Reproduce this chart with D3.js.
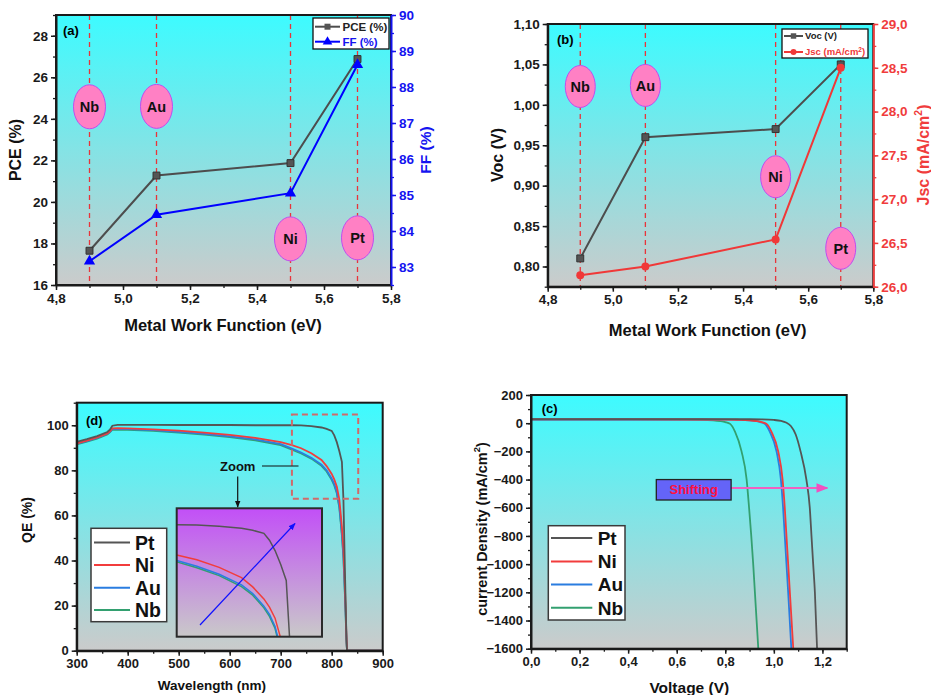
<!DOCTYPE html>
<html>
<head>
<meta charset="utf-8">
<script src="https://cdn.jsdelivr.net/npm/d3@7"></script>
<style>
  body { margin: 0; background: #fff; }
  svg { display: block; }
</style>
</head>
<body>
<svg id="chart" width="931" height="695"></svg>
<script>
// ---- data ----
var metals = ["Nb", "Au", "Ni", "Pt"];
var workFunction = [4.9, 5.1, 5.5, 5.7];
var pce = [17.65, 21.27, 21.87, 26.88];
var ff = [83.16, 84.45, 85.05, 88.62];
var voc = [0.81, 0.96, 0.97, 1.05];
var jsc = [26.13, 26.23, 26.54, 28.50];

// QE spectra (d)
var qeWave = [300, 320, 340, 360, 365, 370, 380, 400, 450, 500, 550, 600, 650, 700, 722, 740, 760, 780, 790, 800, 805, 810, 815, 820, 823, 826, 829, 830, 900];
var qePt = [92.6, 93.8, 95.2, 97.0, 98.0, 99.8, 100.2, 100.2, 100.2, 100.1, 100.1, 100.1, 100.0, 100.0, 100.0, 99.9, 99.6, 99.0, 98.4, 97.5, 95.5, 92.5, 88.5, 83.8, 67, 35, 5, 0, 0];
var qeNi = [92.0, 93.2, 94.6, 96.4, 97.3, 98.6, 98.7, 98.6, 98.2, 97.6, 96.7, 95.7, 94.4, 92.5, 91.2, 89.8, 87.6, 84.6, 81.9, 78.4, 76.0, 72.8, 67.0, 55, 45, 28, 6, 0, 0];
var qeAu = [91.8, 93.0, 94.4, 96.2, 97.1, 98.3, 98.4, 98.3, 97.8, 97.1, 96.2, 95.1, 93.7, 91.6, 89.6, 87.9, 85.6, 82.5, 80.0, 76.3, 73.9, 70.4, 64, 52, 42, 25, 5, 0, 0];
var qeNb = [91.5, 92.7, 94.1, 95.9, 96.8, 98.0, 98.1, 98.0, 97.5, 96.7, 95.8, 94.7, 93.3, 91.2, 89.2, 87.5, 85.2, 82.0, 79.5, 75.8, 73.3, 69.8, 63.2, 51, 41, 24, 4, 0, 0];

// J-V curves (c)
var ptV = [0, 0.4, 0.8, 0.9, 0.95, 1.0, 1.03, 1.05, 1.07, 1.09, 1.11, 1.134, 1.148, 1.155, 1.162, 1.169, 1.178];
var ptJ = [28.5, 28.4, 28.2, 27.8, 26.8, 23, 16, 5, -20, -80, -200, -400, -600, -800, -1000, -1200, -1600];
var niV = [0, 0.4, 0.7, 0.8, 0.85, 0.9, 0.93, 0.95, 0.97, 0.99, 1.018, 1.036, 1.045, 1.052, 1.059, 1.066, 1.08];
var niJ = [26.5, 26.5, 26.3, 25.8, 24.5, 21, 15, 8, -5, -60, -200, -400, -600, -800, -1000, -1200, -1600];
var auV = [0, 0.4, 0.7, 0.8, 0.85, 0.9, 0.925, 0.945, 0.963, 0.983, 1.011, 1.029, 1.038, 1.045, 1.052, 1.059, 1.072];
var auJ = [26.2, 26.2, 26.0, 25.5, 24.2, 20.5, 15, 8, -5, -60, -200, -400, -600, -800, -1000, -1200, -1600];
var nbV = [0, 0.4, 0.6, 0.7, 0.75, 0.78, 0.8, 0.82, 0.84, 0.867, 0.888, 0.898, 0.907, 0.915, 0.922, 0.936];
var nbJ = [26.1, 26.1, 25.8, 24.5, 21, 15, 8, -5, -60, -200, -400, -600, -800, -1000, -1200, -1600];

var seriesNames = ["Pt", "Ni", "Au", "Nb"];
var seriesColors = ["#555555", "#f23c3c", "#2a7de0", "#33a070"];

// ---- setup ----
var FONT = "'Liberation Sans', Arial, sans-serif";
var svg = d3.select("#chart").attr("font-family", FONT).attr("font-weight", "bold");
var defs = svg.append("defs");

function grad(id, c0, c1) {
  var lg = defs.append("linearGradient").attr("id", id)
    .attr("x1", 0).attr("y1", 0).attr("x2", 0).attr("y2", 1);
  lg.append("stop").attr("offset", "0%").attr("stop-color", c0);
  lg.append("stop").attr("offset", "100%").attr("stop-color", c1);
}
grad("bg", "#3dfbff", "#cbcbcb");
grad("bgInset", "#c24ff7", "#c9c9c9");

function marker(id, color) {
  defs.append("marker").attr("id", id).attr("viewBox", "0 0 10 10")
    .attr("refX", 9).attr("refY", 5).attr("markerWidth", 6).attr("markerHeight", 6)
    .attr("orient", "auto")
    .append("path").attr("d", "M0,1L10,5L0,9z").attr("fill", color);
}
marker("arBlue", "#1010ff");
marker("arPink", "#f050c0");
marker("arBlack", "#111");

function clip(id, x0, y0, w, h) {
  defs.append("clipPath").attr("id", id).append("rect")
    .attr("x", x0).attr("y", y0).attr("width", w).attr("height", h);
}

function comma(f) {
  var fm = d3.format(f);
  return function (d) { return fm(d).replace(".", ","); };
}

function steps(a, b, s) {
  var n = Math.round((b - a) / s), out = [];
  for (var i = 0; i <= n; i++) out.push(+(a + i * s).toFixed(6));
  return out;
}

function panel(px0, px1, py0, py1, xDom, yDom) {
  var x = d3.scaleLinear().domain(xDom).range([px0, px1]);
  var y = d3.scaleLinear().domain(yDom).range([py1, py0]);
  svg.append("rect").attr("x", px0).attr("y", py0)
    .attr("width", px1 - px0).attr("height", py1 - py0).attr("fill", "url(#bg)");
  return { x: x, y: y, x0: px0, x1: px1, y0: py0, y1: py1 };
}

function border(p) {
  svg.append("rect").attr("x", p.x0).attr("y", p.y0)
    .attr("width", p.x1 - p.x0).attr("height", p.y1 - p.y0)
    .attr("fill", "none").attr("stroke", "#1a1a1a").attr("stroke-width", 2);
}

function axis(orient, scale, majors, minors, fmt, pos, color, fs) {
  var make = { bottom: d3.axisBottom, left: d3.axisLeft, right: d3.axisRight }[orient];
  var t = orient == "bottom" ? "translate(0," + pos + ")" : "translate(" + pos + ",0)";
  var gm = svg.append("g").attr("transform", t)
    .call(make(scale).tickValues(minors).tickSize(3).tickSizeOuter(0).tickFormat(""));
  gm.select(".domain").remove();
  gm.selectAll("line").attr("stroke", color).attr("stroke-width", 1.3);
  var g = svg.append("g").attr("transform", t)
    .call(make(scale).tickValues(majors).tickSize(5).tickSizeOuter(0).tickPadding(3).tickFormat(fmt));
  g.attr("font-family", FONT).attr("font-size", fs).attr("font-weight", "bold");
  g.select(".domain").attr("stroke", color).attr("stroke-width", 2);
  g.selectAll("line").attr("stroke", color).attr("stroke-width", 1.5);
  g.selectAll("text").attr("fill", color);
  return g;
}

function title(txt, x, y, fs, color, rot) {
  var t = svg.append("text").attr("x", x).attr("y", y).attr("text-anchor", "middle")
    .attr("font-size", fs).attr("fill", color || "#111");
  if (rot) t.attr("transform", "rotate(-90," + x + "," + y + ")").attr("dominant-baseline", "middle");
  if (typeof txt === "string") t.text(txt);
  else txt.forEach(function (p) {
    var s = t.append("tspan").text(p[0]);
    if (p[1]) s.attr("baseline-shift", "super").attr("font-size", fs * 0.65);
  });
  return t;
}

function bubbles(p, ys, rx, ry, fs) {
  var g = svg.append("g");
  metals.forEach(function (m, i) {
    var cx = p.x(workFunction[i]), cy = p.y(ys[i]);
    g.append("ellipse").attr("cx", cx).attr("cy", cy).attr("rx", rx).attr("ry", ry)
      .attr("fill", "#ff80c4").attr("stroke", "#bf4df0").attr("stroke-width", 1);
    g.append("text").attr("x", cx).attr("y", cy).attr("dy", "0.36em").attr("text-anchor", "middle")
      .attr("font-size", fs).attr("fill", "#111").text(m);
  });
}

function dashes(p) {
  svg.append("g").selectAll("line").data(workFunction).enter().append("line")
    .attr("x1", function (d) { return p.x(d); }).attr("x2", function (d) { return p.x(d); })
    .attr("y1", p.y0).attr("y2", p.y1)
    .attr("stroke", "#e8343a").attr("stroke-width", 1.3).attr("stroke-dasharray", "5,4");
}

// ================= (a) PCE / FF =================
var A = panel(56, 391, 15, 285, [4.8, 5.8], [16, 29]);
var yFF = d3.scaleLinear().domain([82.5, 90]).range([285, 15]);
dashes(A);

var lineA = d3.line().x(function (d, i) { return A.x(workFunction[i]); });
svg.append("path").datum(pce).attr("fill", "none").attr("stroke", "#4d4d4d").attr("stroke-width", 2)
  .attr("d", lineA.y(function (d) { return A.y(d); }));
svg.append("path").datum(ff).attr("fill", "none").attr("stroke", "#0000ff").attr("stroke-width", 2)
  .attr("d", d3.line().x(function (d, i) { return A.x(workFunction[i]); }).y(function (d) { return yFF(d); }));
svg.append("g").selectAll("path").data(pce).enter().append("path")
  .attr("transform", function (d, i) { return "translate(" + A.x(workFunction[i]) + "," + A.y(d) + ")"; })
  .attr("d", d3.symbol().type(d3.symbolSquare).size(48)).attr("fill", "#555").attr("stroke", "#333");
svg.append("g").selectAll("path").data(ff).enter().append("path")
  .attr("transform", function (d, i) { return "translate(" + A.x(workFunction[i]) + "," + yFF(d) + ")"; })
  .attr("d", d3.symbol().type(d3.symbolTriangle).size(55)).attr("fill", "#0000ff");

bubbles(A, [24.58, 24.6, 18.22, 18.27], 16, 22, 14.5);
border(A);
axis("bottom", A.x, steps(4.8, 5.8, 0.2), steps(4.8, 5.8, 0.1), comma(".1f"), 285, "#1a1a1a", 13.5);
axis("left", A.y, steps(16, 28, 2), steps(16, 29, 1), d3.format("d"), 56, "#1a1a1a", 13.5);
axis("right", yFF, steps(83, 90, 1), steps(82.5, 90, 0.5), d3.format("d"), 391, "#1414f0", 13.5);
svg.append("text").attr("x", 63).attr("y", 35).attr("font-size", 13).text("(a)");
title("PCE (%)", 17, 150, 16, "#111", true);
title("FF (%)", 427, 150, 15.5, "#1414f0", true);
title("Metal Work Function (eV)", 223, 331, 16.5);

// legend (a)
svg.append("rect").attr("x", 313).attr("y", 18).attr("width", 76).attr("height", 31)
  .attr("fill", "#fff").attr("stroke", "#111").attr("stroke-width", 1.3);
svg.append("line").attr("x1", 315).attr("x2", 340).attr("y1", 26.7).attr("y2", 26.7).attr("stroke", "#4d4d4d").attr("stroke-width", 2);
svg.append("path").attr("transform", "translate(327.5,26.7)").attr("d", d3.symbol().type(d3.symbolSquare).size(36)).attr("fill", "#555");
svg.append("line").attr("x1", 315).attr("x2", 340).attr("y1", 41.7).attr("y2", 41.7).attr("stroke", "#0000ff").attr("stroke-width", 2);
svg.append("path").attr("transform", "translate(327.5,41.7)").attr("d", d3.symbol().type(d3.symbolTriangle).size(40)).attr("fill", "#0000ff");
svg.append("text").attr("x", 342.5).attr("y", 26.7).attr("dy", "0.36em").attr("font-size", 11.5).attr("fill", "#222").text("PCE (%)");
svg.append("text").attr("x", 342.5).attr("y", 41.7).attr("dy", "0.36em").attr("font-size", 11.5).attr("fill", "#1414f0").text("FF (%)");

// ================= (b) Voc / Jsc =================
var B = panel(547.7, 873.3, 24, 286.7, [4.8, 5.8], [0.775, 1.10]);
var yJsc = d3.scaleLinear().domain([26, 29]).range([286.7, 24]);
dashes(B);

svg.append("path").datum(voc).attr("fill", "none").attr("stroke", "#4d4d4d").attr("stroke-width", 2)
  .attr("d", d3.line().x(function (d, i) { return B.x(workFunction[i]); }).y(function (d) { return B.y(d); }));
svg.append("path").datum(jsc).attr("fill", "none").attr("stroke", "#f03838").attr("stroke-width", 2)
  .attr("d", d3.line().x(function (d, i) { return B.x(workFunction[i]); }).y(function (d) { return yJsc(d); }));
svg.append("g").selectAll("path").data(voc).enter().append("path")
  .attr("transform", function (d, i) { return "translate(" + B.x(workFunction[i]) + "," + B.y(d) + ")"; })
  .attr("d", d3.symbol().type(d3.symbolSquare).size(48)).attr("fill", "#555").attr("stroke", "#333");
svg.append("g").selectAll("circle").data(jsc).enter().append("circle")
  .attr("cx", function (d, i) { return B.x(workFunction[i]); }).attr("cy", function (d) { return yJsc(d); })
  .attr("r", 4).attr("fill", "#f03838");

bubbles(B, [1.0227, 1.024, 0.911, 0.8225], 15, 21, 14.5);
border(B);
axis("bottom", B.x, steps(4.8, 5.8, 0.2), steps(4.8, 5.8, 0.1), comma(".1f"), 286.7, "#1a1a1a", 13.5);
axis("left", B.y, steps(0.8, 1.1, 0.05), steps(0.775, 1.1, 0.025), comma(".2f"), 547.7, "#1a1a1a", 13.5);
axis("right", yJsc, steps(26, 29, 0.5), steps(26, 29, 0.25), comma(".1f"), 873.3, "#f03c3c", 13.5);
svg.append("text").attr("x", 557).attr("y", 44).attr("font-size", 13).text("(b)");
title("Voc (V)", 498.3, 155, 16, "#111", true);
title([["Jsc (mA/cm"], ["2", true], [")"]], 925, 155, 16, "#f03c3c", true);
title("Metal Work Function (eV)", 707.7, 336, 16.5);

// legend (b)
svg.append("rect").attr("x", 782).attr("y", 29).attr("width", 86).attr("height", 29)
  .attr("fill", "#fff").attr("stroke", "#111").attr("stroke-width", 1.3);
svg.append("line").attr("x1", 784).attr("x2", 803).attr("y1", 36).attr("y2", 36).attr("stroke", "#4d4d4d").attr("stroke-width", 2);
svg.append("path").attr("transform", "translate(793.5,36)").attr("d", d3.symbol().type(d3.symbolSquare).size(30)).attr("fill", "#555");
svg.append("line").attr("x1", 784).attr("x2", 803).attr("y1", 52).attr("y2", 52).attr("stroke", "#f03838").attr("stroke-width", 2);
svg.append("circle").attr("cx", 793.5).attr("cy", 52).attr("r", 3).attr("fill", "#f03838");
svg.append("text").attr("x", 805).attr("y", 36).attr("dy", "0.36em").attr("font-size", 9.5).attr("fill", "#222").text("Voc (V)");
var lj = svg.append("text").attr("x", 805).attr("y", 52).attr("dy", "0.36em").attr("font-size", 9.5).attr("fill", "#f03838");
lj.append("tspan").text("Jsc (mA/cm");
lj.append("tspan").attr("baseline-shift", "super").attr("font-size", 6.5).text("2");
lj.append("tspan").text(")");

// ================= (d) QE =================
var D = panel(76.7, 382.7, 402.7, 650.7, [300, 900], [0, 110]);
clip("clipD", 76.7, 402.7, 306, 248);
var qeSets = [qePt, qeNi, qeAu, qeNb];
var lineD = d3.line().x(function (d, i) { return D.x(qeWave[i]); }).y(function (d) { return D.y(d); });
var gD = svg.append("g").attr("clip-path", "url(#clipD)");
[3, 2, 1, 0].forEach(function (k) {
  gD.append("path").datum(qeSets[k]).attr("fill", "none").attr("stroke", seriesColors[k])
    .attr("stroke-width", 1.8).attr("d", lineD);
});

// zoom window (data region shown in the inset)
var zoomX = [722, 852], zoomY = [67.4, 104.8];
svg.append("rect").attr("x", D.x(zoomX[0])).attr("y", D.y(zoomY[1]))
  .attr("width", D.x(zoomX[1]) - D.x(zoomX[0])).attr("height", D.y(zoomY[0]) - D.y(zoomY[1]))
  .attr("fill", "none").attr("stroke", "#d06a6a").attr("stroke-width", 2).attr("stroke-dasharray", "6,4");

// inset
var xi = d3.scaleLinear().domain(zoomX).range([176.7, 322]);
var yi = d3.scaleLinear().domain(zoomY).range([636.7, 508.3]);
clip("clipI", 176.7, 508.3, 145.3, 128.4);
svg.append("rect").attr("x", 176.7).attr("y", 508.3).attr("width", 145.3).attr("height", 128.4).attr("fill", "url(#bgInset)");
var gI = svg.append("g").attr("clip-path", "url(#clipI)");
var lineI = d3.line().x(function (d, i) { return xi(qeWave[i]); }).y(function (d) { return yi(d); });
[3, 2, 1, 0].forEach(function (k) {
  gI.append("path").datum(qeSets[k]).attr("fill", "none").attr("stroke", seriesColors[k])
    .attr("stroke-width", 1.5).attr("d", lineI);
});
svg.append("line").attr("x1", 200).attr("y1", 625).attr("x2", 295).attr("y2", 523.5)
  .attr("stroke", "#1010ff").attr("stroke-width", 1.2).attr("marker-end", "url(#arBlue)");
svg.append("rect").attr("x", 176.7).attr("y", 508.3).attr("width", 145.3).attr("height", 128.4)
  .attr("fill", "none").attr("stroke", "#2a2a2a").attr("stroke-width", 2);

svg.append("text").attr("x", 220).attr("y", 470.5).attr("font-size", 13).attr("fill", "#111").text("Zoom");
svg.append("line").attr("x1", 262).attr("x2", 298.5).attr("y1", 466).attr("y2", 466).attr("stroke", "#111").attr("stroke-width", 1.2);
svg.append("line").attr("x1", 237.7).attr("x2", 237.7).attr("y1", 476.5).attr("y2", 507).attr("stroke", "#111").attr("stroke-width", 1.2)
  .attr("marker-end", "url(#arBlack)");

border(D);
axis("bottom", D.x, steps(300, 900, 100), steps(300, 900, 50), d3.format("d"), 650.7, "#1a1a1a", 13);
axis("left", D.y, steps(0, 100, 20), steps(0, 110, 10), d3.format("d"), 76.7, "#1a1a1a", 13);
svg.append("text").attr("x", 86).attr("y", 424.5).attr("font-size", 13).text("(d)");
title("QE (%)", 28.3, 520, 14, "#111", true);
title("Wavelength (nm)", 212, 690, 13.5);

function bigLegend(x, y, w, h, rows, lx0, lx1, tx, fs) {
  svg.append("rect").attr("x", x).attr("y", y).attr("width", w).attr("height", h)
    .attr("fill", "#fff").attr("stroke", "#3a3a3a").attr("stroke-width", 1.5);
  seriesNames.forEach(function (s, i) {
    svg.append("line").attr("x1", lx0).attr("x2", lx1).attr("y1", rows[i]).attr("y2", rows[i])
      .attr("stroke", seriesColors[i]).attr("stroke-width", 2);
    svg.append("text").attr("x", tx).attr("y", rows[i]).attr("dy", "0.36em")
      .attr("font-size", fs).attr("fill", "#111").text(s);
  });
}
bigLegend(91, 528.3, 75.7, 93.4, [542.5, 565, 587.8, 610], 94, 130, 135, 19.5);

// ================= (c) J-V =================
var C = panel(531, 846.7, 395, 648.7, [0, 1.3], [-1600, 200]);
clip("clipC", 531, 395, 315.7, 253.7);
var jvSets = [[ptV, ptJ], [niV, niJ], [auV, auJ], [nbV, nbJ]];
var gC = svg.append("g").attr("clip-path", "url(#clipC)");
[3, 2, 1, 0].forEach(function (k) {
  var v = jvSets[k][0], j = jvSets[k][1];
  gC.append("path").datum(v).attr("fill", "none").attr("stroke", seriesColors[k]).attr("stroke-width", 1.8)
    .attr("d", d3.line().curve(d3.curveMonotoneX)
      .x(function (d) { return C.x(d); }).y(function (d, i) { return C.y(j[i]); }));
});

// "Shifting" annotation
svg.append("line").attr("x1", C.x(0.82)).attr("x2", C.x(1.22)).attr("y1", C.y(-460)).attr("y2", C.y(-460))
  .attr("stroke", "#f060c0").attr("stroke-width", 2).attr("marker-end", "url(#arPink)");
svg.append("rect").attr("x", C.x(0.516)).attr("y", C.y(-400)).attr("width", C.x(0.824) - C.x(0.516))
  .attr("height", C.y(-545) - C.y(-400)).attr("fill", "#6464f8").attr("stroke", "#222").attr("stroke-width", 1.3);
svg.append("text").attr("x", (C.x(0.516) + C.x(0.824)) / 2).attr("y", C.y(-472)).attr("dy", "0.36em")
  .attr("text-anchor", "middle").attr("font-size", 13).attr("fill", "#ff1040").text("Shifting");

border(C);
axis("bottom", C.x, steps(0, 1.2, 0.2), steps(0, 1.3, 0.1), comma(".1f"), 648.7, "#1a1a1a", 13);
axis("left", C.y, steps(-1600, 200, 200), steps(-1600, 200, 100), d3.format("d"), 531, "#1a1a1a", 13);
svg.append("text").attr("x", 541.7).attr("y", 413).attr("font-size", 13).text("(c)");
title([["current Density (mA/cm"], ["2", true], [")"]], 482.7, 529, 14.5, "#111", true);
title("Voltage (V)", 689.3, 693, 15.5);

bigLegend(548.3, 525.7, 76.7, 94.3, [538, 561.5, 584.5, 607.7], 551, 592.3, 597.7, 19);
</script>
</body>
</html>
